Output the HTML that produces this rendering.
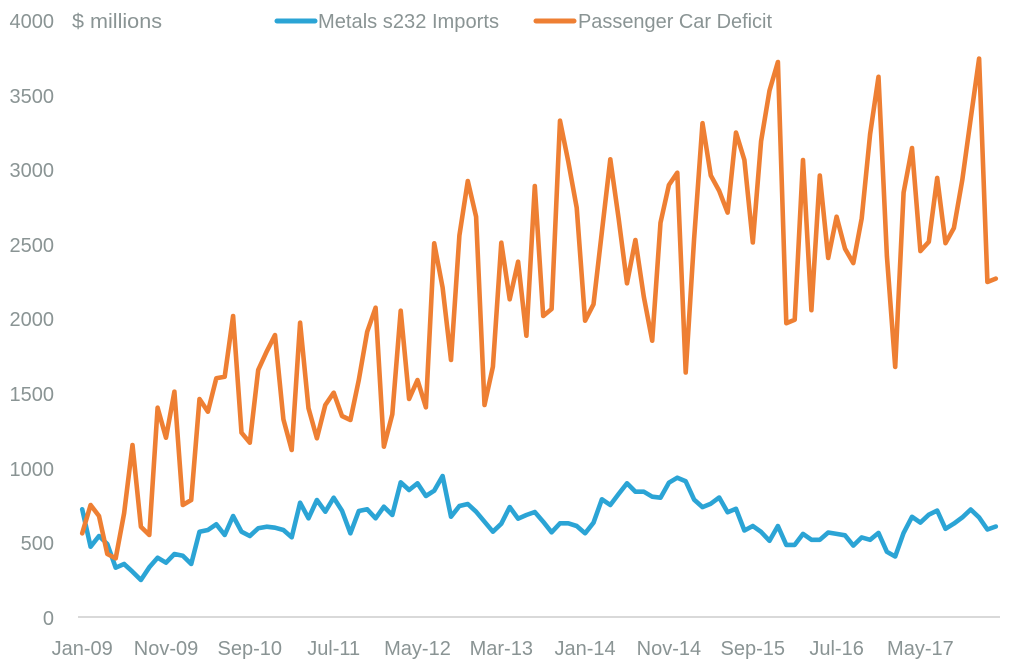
<!DOCTYPE html>
<html>
<head>
<meta charset="utf-8">
<style>
html,body{margin:0;padding:0;background:#fff;}
svg{display:block;}
text{font-family:"Liberation Sans",Arial,sans-serif;fill:#8a9494;font-size:20px;}
</style>
</head>
<body>
<svg width="1016" height="665" viewBox="0 0 1016 665" xmlns="http://www.w3.org/2000/svg">
<rect width="1016" height="665" fill="#fff"/>
<!-- y labels -->
<g text-anchor="end">
<text x="54" y="28">4000</text>
<text x="54" y="103">3500</text>
<text x="54" y="177">3000</text>
<text x="54" y="252">2500</text>
<text x="54" y="326">2000</text>
<text x="54" y="401">1500</text>
<text x="54" y="476">1000</text>
<text x="54" y="550">500</text>
<text x="54" y="625">0</text>
</g>
<text x="72" y="28" textLength="90" lengthAdjust="spacingAndGlyphs">$ millions</text>
<!-- legend -->
<line x1="277" y1="21" x2="315" y2="21" stroke="#2ba4d5" stroke-width="5" stroke-linecap="round"/>
<text x="318" y="28" textLength="181" lengthAdjust="spacingAndGlyphs">Metals s232 Imports</text>
<line x1="536" y1="21" x2="574" y2="21" stroke="#ee7f33" stroke-width="5" stroke-linecap="round"/>
<text x="578" y="28" textLength="194" lengthAdjust="spacingAndGlyphs">Passenger Car Deficit</text>
<!-- axis -->
<line x1="78" y1="617" x2="1000" y2="617" stroke="#d9d9d9" stroke-width="2"/>
<!-- x labels -->
<g text-anchor="middle">
<text x="82.2" y="655">Jan-09</text>
<text x="166.0" y="655">Nov-09</text>
<text x="249.8" y="655">Sep-10</text>
<text x="333.7" y="655">Jul-11</text>
<text x="417.5" y="655">May-12</text>
<text x="501.3" y="655">Mar-13</text>
<text x="585.1" y="655">Jan-14</text>
<text x="668.9" y="655">Nov-14</text>
<text x="752.8" y="655">Sep-15</text>
<text x="836.6" y="655">Jul-16</text>
<text x="920.4" y="655">May-17</text>
</g>
<!-- blue series -->
<polyline fill="none" stroke="#2ba4d5" stroke-width="4.6" stroke-linejoin="round" stroke-linecap="round" points="
82.2,509.3 90.6,546.7 99.0,536 107.3,544 115.7,567.7 124.1,564 132.5,571.7 140.9,580 149.3,567.3 157.6,557.7
166.0,562.7 174.4,554 182.8,555.7 191.2,564 199.5,531.7 207.9,530 216.3,524.3 224.7,535 233.1,516 241.5,531.7
249.8,536 258.2,528.3 266.6,526.7 275.0,527.7 283.4,530 291.7,537.3 300.1,502.7 308.5,518.3 316.9,500 325.3,511.7
333.7,497.7 342.0,510.7 350.4,533.3 358.8,511 367.2,509.3 375.6,518.3 383.9,506.7 392.3,515 400.7,482.3 409.1,490
417.5,483.3 425.9,496 434.2,490.7 442.6,476 451.0,516.7 459.4,506 467.8,504 476.1,511.7 484.5,521.7 492.9,531.7
501.3,523.7 509.7,507 518.1,518.7 526.4,515 534.8,512 543.2,521.7 551.6,532.3 560.0,523.3 568.3,523.3 576.7,526
585.1,533.3 593.5,522.7 601.9,499.3 610.3,505 618.6,494 627.0,483.3 635.4,491.7 643.8,491.7 652.2,496.7 660.5,497.7
668.9,482.7 677.3,477.7 685.7,481.3 694.1,499.6 702.5,507.1 710.8,503.7 719.2,497.5 727.6,512.3 736.0,508.8 744.4,530.5
752.8,526 761.1,531.9 769.5,540.8 777.9,526 786.3,544.9 794.7,544.9 803.0,533.9 811.4,539.8 819.8,539.8 828.2,532.5
836.6,533.9 845.0,535.3 853.3,545.6 861.7,537.4 870.1,539.8 878.5,532.9 886.9,551.8 895.2,556.5 903.6,532.9 912.0,516.8
920.4,522.6 928.8,514.7 937.2,510.6 945.5,528.8 953.9,523.6 962.3,517.4 970.7,509.5 979.1,517.4 987.4,529.5 995.8,526.5"/>
<!-- orange series -->
<polyline fill="none" stroke="#ee7f33" stroke-width="4.6" stroke-linejoin="round" stroke-linecap="round" points="
82.2,533.3 90.6,505 99.0,516 107.3,554 115.7,558.3 124.1,513.3 132.5,445 140.9,526.7 149.3,535 157.6,407.7
166.0,437.7 174.4,391.7 182.8,505 191.2,500 199.5,399 207.9,411.7 216.3,378.3 224.7,376.7 233.1,316 241.5,432.7
249.8,442.7 258.2,370 266.6,351.7 275.0,335 283.4,419.3 291.7,450 300.1,322.7 308.5,408.3 316.9,438.3 325.3,405
333.7,392.7 342.0,416 350.4,420 358.8,380 367.2,331.7 375.6,307.7 383.9,446.7 392.3,414.3 400.7,310.7 409.1,399
417.5,380 425.9,407.3 434.2,243.3 442.6,287.5 451.0,360 459.4,235.5 467.8,181 476.1,216.7 484.5,405 492.9,366.7
501.3,242.7 509.7,299.3 518.1,261.7 526.4,335.7 534.8,186 543.2,316 551.6,309 560.0,120.7 568.3,161.7 576.7,207.7
585.1,320.7 593.5,304.3 601.9,231.7 610.3,159.3 618.6,218.3 627.0,283.3 635.4,240 643.8,296.7 652.2,340.7 660.5,222.7
668.9,185 677.3,172.7 685.7,372.5 694.1,239 702.5,123.2 710.8,175.5 719.2,190.9 727.6,212.6 736.0,132.5 744.4,160
752.8,242.5 761.1,141.1 769.5,90.6 777.9,62 786.3,323.2 794.7,319.8 803.0,160 811.4,310.2 819.8,175.5 828.2,258
836.6,216.7 845.0,248.7 853.3,263.1 861.7,218.4 870.1,134.2 878.5,76.8 886.9,256.2 895.2,366.9 903.6,192.6 912.0,148
920.4,251.1 928.8,241.8 937.2,177.9 945.5,243.2 953.9,228 962.3,179.9 970.7,118.7 979.1,58.6 987.4,282 995.8,278.6"/>
</svg>
</body>
</html>
